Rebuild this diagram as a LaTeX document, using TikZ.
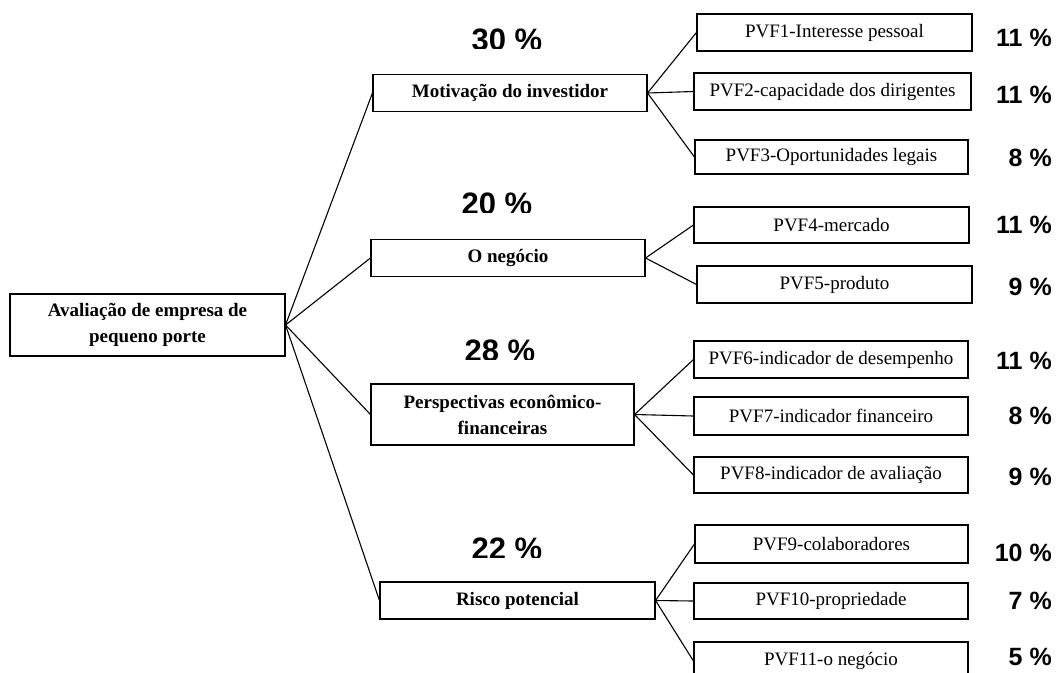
\documentclass[tikz,border=0pt]{standalone}
\usepackage{fontspec}
\setmainfont{Liberation Serif}
\newfontfamily\pctfont{Liberation Sans}
\begin{document}
\begin{tikzpicture}[x=1pt,y=-1pt,
  box/.style={draw,line width=1.1pt,inner sep=0pt,minimum width=274pt,minimum height=37pt,
    align=center,font=\fontsize{19}{26}\selectfont},
  topic/.style={box,font=\fontsize{19}{26}\selectfont\bfseries},
  pct/.style={anchor=east,inner sep=0pt,font=\fontsize{25}{25}\selectfont\pctfont\bfseries},
  bigpct/.style={inner sep=0pt,font=\fontsize{31}{31}\selectfont\pctfont\bfseries},
  link/.style={line width=1.1pt}]
\useasboundingbox (0,0) rectangle (1057,672);

% raiz e criterios
\node[topic,minimum width=275pt,minimum height=62pt] (root) at (147.5,325) {Avaliação de empresa de\\pequeno porte};
\node[topic] (mot) at (510,93) {Motivação do investidor};
\node[topic] (neg) at (508,258) {O negócio};
\node[topic,minimum width=263pt,minimum height=61pt] (per) at (502.5,414.5) {Perspectivas econômico-\\financeiras};
\node[topic,minimum width=275pt] (ris) at (517.5,600.5) {Risco potencial};

% pesos dos criterios
\foreach \t/\x/\y in {30/507/40,20/497/204,28/500/351,22/507/549}{
  \begin{scope}
    \clip (\x-60,\y-30) rectangle (\x+60,\y+8.5);
    \node[bigpct] at (\x,\y) {\t\ \%};
  \end{scope}
}

% subcriterios
\node[box,minimum width=275pt] (p1) at (834.5,32.5) {PVF1-Interesse pessoal};
\node[box,minimum width=277pt] (p2) at (832.5,91.5) {PVF2-capacidade dos dirigentes};
\node[box,minimum width=273pt,minimum height=34pt] (p3) at (831.5,157) {PVF3-Oportunidades legais};
\node[box,minimum width=275pt,minimum height=36pt] (p4) at (831.5,225) {PVF4-mercado};
\node[box,minimum width=275pt] (p5) at (834.5,284.5) {PVF5-produto};
\node[box] (p6) at (831,359.5) {PVF6-indicador de desempenho};
\node[box,minimum height=38pt] (p7) at (831,416) {PVF7-indicador financeiro};
\node[box,minimum height=36pt] (p8) at (831,475) {PVF8-indicador de avaliação};
\node[box,minimum width=273pt,minimum height=38pt] (p9) at (831.5,544) {PVF9-colaboradores};
\node[box,minimum height=36pt] (p10) at (831,601) {PVF10-propriedade};
\node[box,minimum height=38pt] (p11) at (831,661) {PVF11-o negócio};

% pesos dos subcriterios
\node[pct] (w1) at (1052,38) {11 \%};
\node[pct] (w2) at (1052,95) {11 \%};
\node[pct] (w3) at (1052,158) {8 \%};
\node[pct] (w4) at (1052,225) {11 \%};
\node[pct] (w5) at (1052,287) {9 \%};
\node[pct] (w6) at (1052,361) {11 \%};
\node[pct] (w7) at (1052,416) {8 \%};
\node[pct] (w8) at (1052,477) {9 \%};
\node[pct] (w9) at (1052,553) {10 \%};
\node[pct] (w10) at (1052,601) {7 \%};
\node[pct] (w11) at (1052,657) {5 \%};

% ligacoes
\foreach \c in {mot,neg,per,ris}
  \draw[link] (root.east) -- (\c.west);
\foreach \l in {p1,p2,p3}
  \draw[link] (mot.east) -- (\l.west);
\foreach \l in {p4,p5}
  \draw[link] (neg.east) -- (\l.west);
\foreach \l in {p6,p7,p8}
  \draw[link] (per.east) -- (\l.west);
\foreach \l in {p9,p10,p11}
  \draw[link] (ris.east) -- (\l.west);
\end{tikzpicture}
\end{document}
